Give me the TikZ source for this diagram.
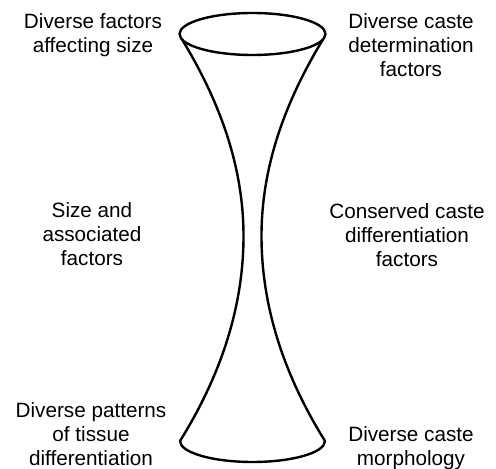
\documentclass[tikz,border=0pt]{standalone}
\usepackage{fontspec}
\setmainfont{Liberation Sans}

\begin{document}
\begin{tikzpicture}[
  x=1pt, y=1pt,
  lbl/.style={align=center, anchor=base, inner sep=0,
    font=\fontsize{20.7}{23.8}\selectfont},
  rim/.style={line width=2.4pt, line join=round},
]
  \useasboundingbox (0,0) rectangle (496,469);

  % labels, last line baseline at (\x,\y)
  \foreach \name/\x/\y/\txt in {%
      topleft/93/416.2/{Diverse factors\\affecting size},
      topright/411/392.4/{Diverse caste\\determination\\factors},
      midleft/92/203.4/{Size and\\associated\\factors},
      midright/407/202.4/{Conserved caste\\differentiation\\factors},
      botleft/91/3.5/{Diverse patterns\\of tissue\\differentiation},
      botright/411/3.5/{Diverse caste\\morphology}}
    \node[lbl] (\name) at (\x,\y) {\txt};

  % hourglass
  \coordinate (rimtop) at (252.5,435);
  \coordinate (sideL) at (182,429.6);
  \coordinate (sideR) at (323,429.6);
  \coordinate (footL) at (180,28);
  \draw[rim] (rimtop) ellipse [x radius=73pt, y radius=21pt];
  \draw[rim] (sideL) .. controls (223,362.3) and (243.5,297.7) .. (243.5,233)
    .. controls (243.5,164.7) and (222.5,96.3) .. (footL)
    arc[start angle=180, end angle=360, x radius=72.5pt, y radius=21pt]
    .. controls (282.5,96.3) and (261.5,164.7) .. (261.5,233)
    .. controls (261.5,297.7) and (282,362.3) .. (sideR);
\end{tikzpicture}
\end{document}
